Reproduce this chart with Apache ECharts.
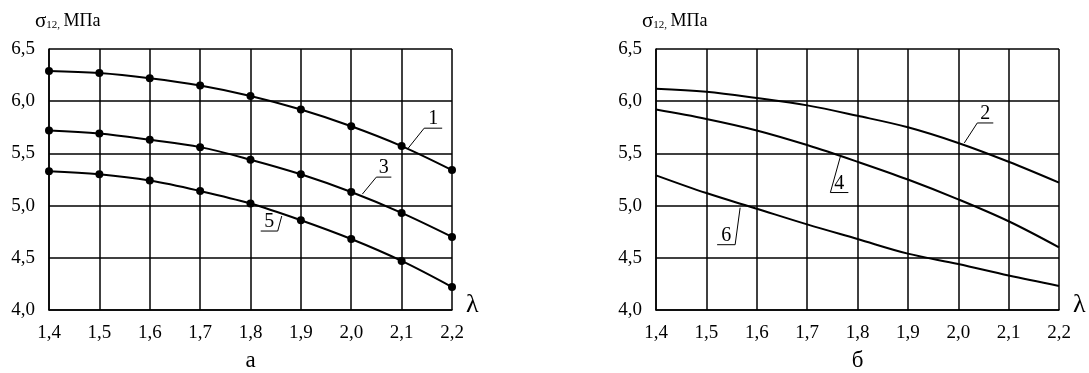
<!DOCTYPE html>
<html lang="ru">
<head>
    <meta charset="UTF-8">
    <script src="https://cdn.jsdelivr.net/npm/echarts@6/dist/echarts.min.js"></script>
    <style>
        html,body{
            height:100%;
            width:100%;
            margin:0;
            padding:0;
            background:#fff;
        }
    </style>
</head>
<body>
    <div id="main" style="width:1089px;height:373px"></div>
    <script>
        // lambda values
        var lambdas = [1.4, 1.5, 1.6, 1.7, 1.8, 1.9, 2.0, 2.1, 2.2];

        // panel a (with markers)
        var curve1 = [6.29, 6.27, 6.22, 6.15, 6.05, 5.92, 5.76, 5.57, 5.34];
        var curve3 = [5.72, 5.69, 5.63, 5.56, 5.44, 5.30, 5.13, 4.93, 4.70];
        var curve5 = [5.33, 5.30, 5.24, 5.14, 5.02, 4.86, 4.68, 4.47, 4.22];

        // panel б (plain lines)
        var curve2 = [6.12, 6.09, 6.03, 5.96, 5.86, 5.75, 5.60, 5.42, 5.22];
        var curve4 = [5.92, 5.83, 5.72, 5.58, 5.42, 5.25, 5.06, 4.85, 4.60];
        var curve6 = [5.29, 5.12, 4.97, 4.82, 4.68, 4.54, 4.44, 4.33, 4.23];

        // curve numbers: grid, text, point on the curve [lambda, sigma]
        var callouts = [
            {grid: 0, text: '1', at: [2.113, 5.55]},
            {grid: 0, text: '3', at: [2.022, 5.11]},
            {grid: 0, text: '5', at: [1.862, 4.90]},
            {grid: 1, text: '2', at: [2.012, 5.60]},
            {grid: 1, text: '4', at: [1.766, 5.47]},
            {grid: 1, text: '6', at: [1.567, 4.98]}
        ];
        // leader geometry (px offsets from the curve point): leader end, underline direction
        var leaderShape = {
            '1': {dx: 16, dy: -20, ul: 18},
            '3': {dx: 14, dy: -17, ul: 15},
            '5': {dx: -4, dy: 15, ul: -17},
            '2': {dx: 13, dy: -20, ul: 16},
            '4': {dx: -10, dy: 36, ul: 18},
            '6': {dx: -5, dy: 37, ul: -18}
        };

        var font = 'Liberation Serif';

        function pairs(ys) {
            return lambdas.map(function (x, i) { return [x, ys[i]]; });
        }
        function comma(v, d) {
            return v.toFixed(d).replace('.', ',');
        }

        function xAxis(i) {
            return {
                type: 'value', gridIndex: i, min: 1.4, max: 2.2, interval: 0.1,
                axisLine: {show: true, lineStyle: {color: '#000', width: 1.5}},
                axisTick: {show: false},
                splitLine: {show: true, lineStyle: {color: '#000', width: 1.5}},
                axisLabel: {
                    color: '#000', fontFamily: font, fontSize: 19, margin: 14,
                    formatter: function (v) { return comma(v, 1); }
                }
            };
        }
        function yAxis(i) {
            return {
                type: 'value', gridIndex: i, min: 4.0, max: 6.5, interval: 0.5,
                name: '{g|σ}{sub|12,} {s|МПа}',
                nameLocation: 'end',
                nameGap: 17,
                nameTextStyle: {
                    align: 'left', padding: [0, 0, 0, -14],
                    rich: {
                        g: {fontFamily: font, fontSize: 21, color: '#000'},
                        s: {fontFamily: font, fontSize: 18, color: '#000'},
                        sub: {fontFamily: font, fontSize: 11, color: '#000', padding: [7, 0, 0, 0]}
                    }
                },
                axisLine: {show: true, lineStyle: {color: '#000', width: 1.5}},
                axisTick: {show: false},
                splitLine: {show: true, lineStyle: {color: '#000', width: 1.5}},
                axisLabel: {
                    color: '#000', fontFamily: font, fontSize: 19, margin: 14,
                    formatter: function (v) { return comma(v, 1); }
                }
            };
        }
        function line(grid, ys, marks) {
            return {
                type: 'line', xAxisIndex: grid, yAxisIndex: grid,
                data: pairs(ys), smooth: 0.35,
                symbol: 'circle', symbolSize: 8, showSymbol: marks,
                itemStyle: {color: '#000'},
                lineStyle: {color: '#000', width: 2},
                animation: false, silent: true
            };
        }

        var myChart = echarts.init(document.getElementById('main'));
        var option = {
            backgroundColor: '#fff',
            grid: [
                {left: 49, top: 49, width: 403, height: 261},
                {left: 656, top: 49, width: 403, height: 261}
            ],
            xAxis: [xAxis(0), xAxis(1)],
            yAxis: [yAxis(0), yAxis(1)],
            series: [
                line(0, curve1, true),
                line(0, curve3, true),
                line(0, curve5, true),
                line(1, curve2, false),
                line(1, curve4, false),
                line(1, curve6, false)
            ]
        };
        myChart.setOption(option);

        // texts and leader lines placed through the axes
        var g = [];
        var textStyle = {fill: '#000', font: '20px "Liberation Serif"'};
        callouts.forEach(function (c) {
            var p = myChart.convertToPixel({gridIndex: c.grid}, c.at);
            var s = leaderShape[c.text];
            var ex = p[0] + s.dx, ey = p[1] + s.dy;
            g.push({type: 'line', silent: true,
                shape: {x1: p[0], y1: p[1], x2: ex, y2: ey},
                style: {stroke: '#000', lineWidth: 1}});
            g.push({type: 'line', silent: true,
                shape: {x1: ex, y1: ey, x2: ex + s.ul, y2: ey},
                style: {stroke: '#000', lineWidth: 1}});
            g.push({type: 'text', silent: true,
                x: ex + s.ul / 2, y: ey + 1,
                style: Object.assign({text: c.text, align: 'center', verticalAlign: 'bottom'}, textStyle)});
        });
        [0, 1].forEach(function (i) {
            var corner = myChart.convertToPixel({gridIndex: i}, [2.2, 4.0]);
            var mid = myChart.convertToPixel({gridIndex: i}, [1.8, 4.0]);
            g.push({type: 'text', silent: true, x: corner[0] + 14, y: corner[1] - 5,
                style: {text: 'λ', fill: '#000', font: '26px "Liberation Serif"', align: 'left', verticalAlign: 'middle'}});
            g.push({type: 'text', silent: true, x: mid[0], y: corner[1] + 51,
                style: {text: i === 0 ? 'а' : 'б', fill: '#000', font: '23px "Liberation Serif"', align: 'center', verticalAlign: 'middle'}});
        });
        myChart.setOption({graphic: g});
    </script>
</body>
</html>
